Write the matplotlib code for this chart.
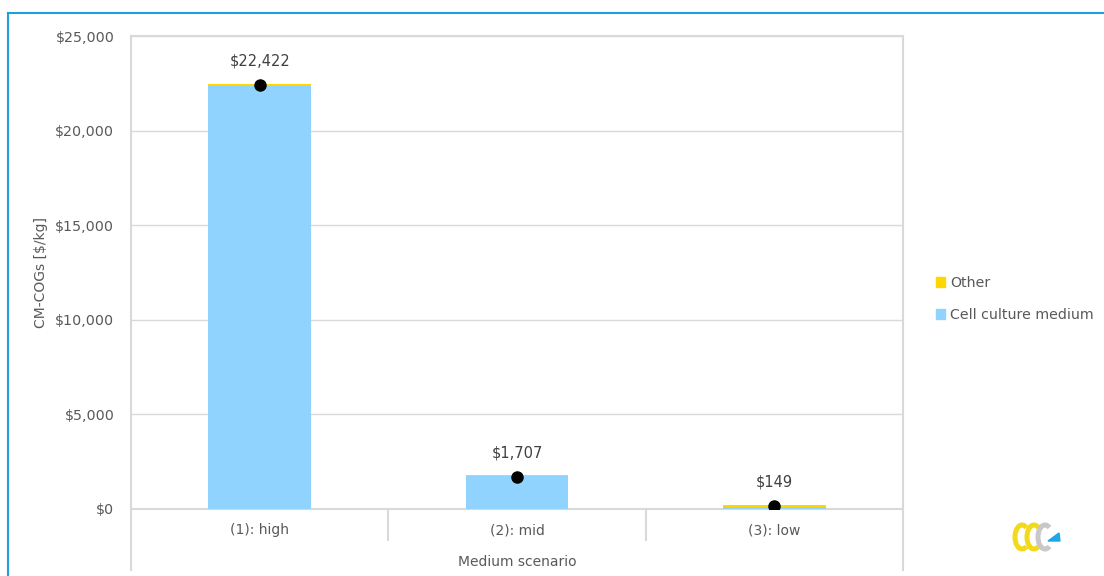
import matplotlib
matplotlib.use("Agg")
import matplotlib.pyplot as plt
from matplotlib.lines import Line2D
from matplotlib.patches import Patch, Arc, Polygon
from matplotlib.ticker import FuncFormatter

# medium cost scenarios, $/kg
scenarios = ["(1): high", "(2): mid", "(3): low"]
cell_medium = [22380, 1740, 120]
other = [100, 70, 80]
cm_cogs = [22422, 1707, 149]

BLUE = "#8FD3FE"
YELLOW = "#FFD600"
GRID = "#D9D9D9"
TEXT = "#595959"

plt.rcParams["font.family"] = ["DejaVu Sans"]
plt.rcParams["font.size"] = 10

W, H = 1104, 576
fig = plt.figure(figsize=(W / 100, H / 100), dpi=100)

def px_box(x0, y0, x1, y1):
    return [x0 / W, 1 - y1 / H, (x1 - x0) / W, (y1 - y0) / H]

ax = fig.add_axes(px_box(131, 36, 903, 509))

x = range(len(scenarios))
ax.bar(x, cell_medium, width=0.4, color=BLUE, label="Cell culture medium", zorder=2)
ax.bar(x, other, width=0.4, bottom=cell_medium, color=YELLOW, label="Other", zorder=2)
ax.plot(x, cm_cogs, "o", color="black", markersize=8, zorder=3)
for xi, v in zip(x, cm_cogs):
    ax.annotate(f"${v:,}", (xi, v), xytext=(0, 12), textcoords="offset points",
                ha="center", va="bottom", color="#404040", fontsize=10.5)

ax.set_xlim(-0.5, 2.5)
ax.set_ylim(0, 25000)
ax.set_yticks(range(0, 25001, 5000))
ax.yaxis.set_major_formatter(FuncFormatter(lambda v, _: f"${v:,.0f}"))
ax.grid(axis="y", color=GRID, lw=1, zorder=0)
ax.tick_params(axis="y", length=0, pad=12, colors=TEXT, labelsize=10.3)
ax.set_xticks([])
for side in ["top", "bottom", "left", "right"]:
    ax.spines[side].set_visible(False)

ax.set_ylabel("CM-COGs [$/kg]", color=TEXT, fontsize=10)
ax.yaxis.set_label_coords(-0.108, 0.5)

# multi-level category axis
h = 473.0
def ay(py):
    return (509 - py) / h

ax.add_line(Line2D([0, 1], [0, 0], color=GRID, lw=1.5, transform=ax.transAxes, clip_on=False, zorder=1))
ax.add_line(Line2D([0, 1], [1, 1], color=GRID, lw=1.5, transform=ax.transAxes, clip_on=False))
for xa in [0, 1]:
    ax.add_line(Line2D([xa, xa], [ay(570), 1], color=GRID, lw=1.5, transform=ax.transAxes, clip_on=False))
for xa in [1 / 3, 2 / 3]:
    ax.add_line(Line2D([xa, xa], [ay(540), 0], color=GRID, lw=1.5, transform=ax.transAxes, clip_on=False))
for xi, name in zip(x, scenarios):
    ax.text((xi + 0.5) / 3, ay(530), name, transform=ax.transAxes, ha="center", va="center",
            color=TEXT, fontsize=10)
ax.text(0.5, ay(562), "Medium scenario", transform=ax.transAxes, ha="center", va="center",
        color=TEXT, fontsize=10)

handles = [Patch(color=YELLOW, label="Other"), Patch(color=BLUE, label="Cell culture medium")]
fig.legend(handles=handles, loc="upper left", bbox_to_anchor=(923 / W, 1 - 263 / H),
           frameon=False, handlelength=0.65, handleheight=0.65, handletextpad=0.35,
           labelspacing=1.3, labelcolor=TEXT, fontsize=10.2)

# outer frame
fig.add_artist(Line2D([8 / W, 1], [1 - 13 / H, 1 - 13 / H], color="#1FA0DC", lw=1.5))
fig.add_artist(Line2D([8 / W, 8 / W], [0, 1 - 13 / H], color="#1FA0DC", lw=1.5))

# logo: two yellow ribbons, a grey one and a blue arrowhead
lg = fig.add_axes(px_box(1008, 518, 1066, 556))
lg.set_xlim(1008, 1066)
lg.set_ylim(556, 518)
lg.axis("off")
for cx, col in [(1022, "#F2DA1A"), (1034, "#F2DA1A"), (1045, "#C8C8C8")]:
    lg.add_patch(Arc((cx, 537), 14, 24, theta1=65, theta2=295, color=col, lw=3.6))
lg.add_patch(Polygon([(1048, 541), (1060, 541), (1059, 533)], color="#1EA7E6"))

fig.savefig("out.png", dpi=100, facecolor="white")
